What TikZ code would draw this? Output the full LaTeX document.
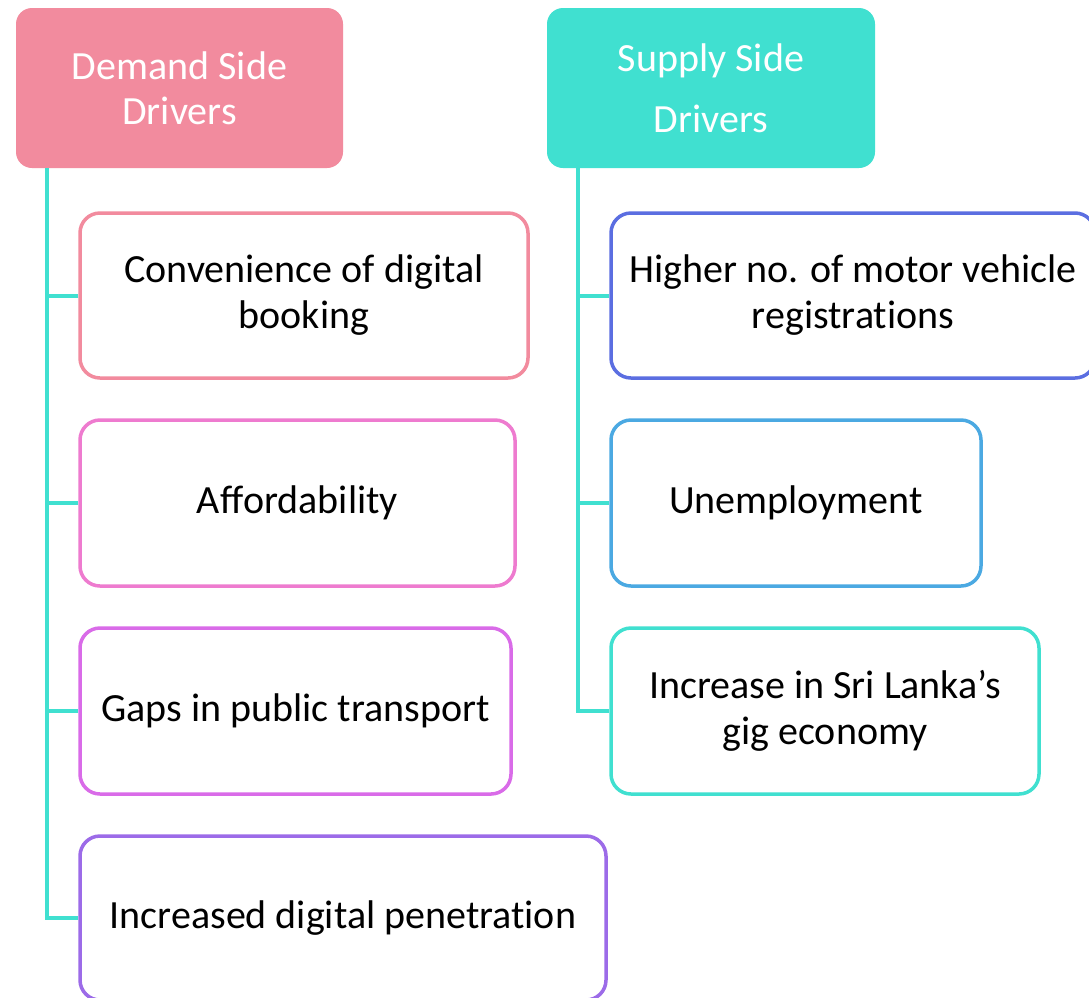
\documentclass[tikz,border=0pt]{standalone}
\usepackage{fontspec}
\setmainfont{Carlito}[Ligatures=NoCommon]
\usetikzlibrary{calc}
\definecolor{cpink}{HTML}{F28B9E}
\definecolor{cmag}{HTML}{EE7BCF}
\definecolor{cviol}{HTML}{D96BE8}
\definecolor{cpurp}{HTML}{9C6BE8}
\definecolor{cblue}{HTML}{5B6EE1}
\definecolor{clblue}{HTML}{4BA9E2}
\definecolor{cturq}{HTML}{40E0D0}
\tikzset{
  header/.style={rectangle, rounded corners=16pt, inner sep=0pt, text=white,
    align=center, font=\fontsize{40}{45}\selectfont},
  itembox/.style={rectangle, rounded corners=20pt, draw, line width=3.5pt, fill=white,
    inner sep=0pt, align=center, font=\fontsize{40}{46}\selectfont, text=black},
  conn/.style={draw=cturq, line width=4pt}
}
\begin{document}
\begin{tikzpicture}[x=1pt,y=-1pt]
\useasboundingbox (0,0) rectangle (1089,997);
\clip (0,0) rectangle (1089,997);
\fill[white] (0,0) rectangle (1089,997);
% headers
\node[header, fill=cpink, minimum width=327pt, minimum height=160pt] (dh) at (179.5,88) {Demand Side\\Drivers};
\node[header, fill=cturq, minimum width=328pt, minimum height=160pt] (sh) at (711,88) {Supply Side\\[16pt]Drivers};
% left items
\node[itembox, draw=cpink, minimum width=448pt, minimum height=165pt] (b1) at (304,295.5) {Convenience of digital\\booking};
\node[itembox, draw=cmag, minimum width=435pt, minimum height=166pt] (b2) at (297.5,503) {Affordability};
\node[itembox, draw=cviol, minimum width=431pt, minimum height=166pt] (b3) at (295.5,711) {Gaps in public transport};
\node[itembox, draw=cpurp, minimum width=526pt, minimum height=164pt] (b4) at (343,918) {Increased digital penetration};
% right items
\node[itembox, draw=cblue, minimum width=484pt, minimum height=165pt] (r1) at (853,295.5) {Higher no. of motor vehicle\\registrations};
\node[itembox, draw=clblue, minimum width=370pt, minimum height=166pt] (r2) at (796,503) {Unemployment};
\node[itembox, draw=cturq, minimum width=428pt, minimum height=166pt] (r3) at (825,711) {Increase in Sri Lanka’s\\gig economy};
% trunks
\coordinate (tl) at ($(dh.south west)+(31,0)$);
\coordinate (tr) at ($(sh.south west)+(31,0)$);
\draw[conn] (tl) |- (b4.west);
\draw[conn] (b1.west) -- (b1.west -| tl);
\draw[conn] (b2.west) -- (b2.west -| tl);
\draw[conn] (b3.west) -- (b3.west -| tl);
\draw[conn] (tr) |- (r3.west);
\draw[conn] (r1.west) -- (r1.west -| tr);
\draw[conn] (r2.west) -- (r2.west -| tr);
\end{tikzpicture}
\end{document}
